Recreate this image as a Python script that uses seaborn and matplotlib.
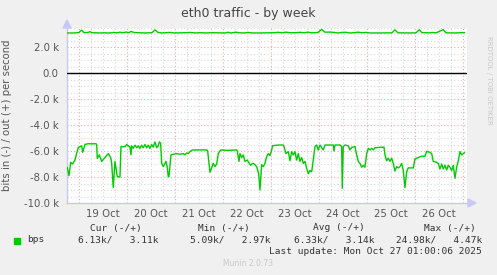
import numpy as np
import pandas as pd
import matplotlib
matplotlib.use("Agg")
import matplotlib.pyplot as plt
import matplotlib.dates as mdates
from matplotlib.ticker import MultipleLocator, FuncFormatter, NullFormatter
import seaborn as sns

# ---------------- data (hours since 19 Oct 2025 00:00) ----------------
in_hours = [-5.7, -4.85, -4.0, -3.0, -1.85, -1.0, -0.2, 1.5, 2.0, 3.15, 4.8, 6.5, 8.65, 9.0,
            9.3, 10.3, 11.5, 13.15, 14.8, 16.0, 16.5, 17.3, 18.15, 19.3, 20.65, 21.15, 23.15,
            24.0, 25.65, 26.15, 26.5, 27.3, 28.15, 29.0, 29.8, 30.65, 31.5, 32.3, 33.15, 34.0,
            34.8, 35.65, 36.5, 37.3, 38.15, 39.0, 39.8, 40.3, 41.0, 41.5, 42.3, 43.65, 44.3,
            44.8, 45.15, 46.15, 47.3, 49.0, 50.65, 52.3, 53.15, 54.0, 54.8, 55.65, 56.8, 64.0,
            64.5, 65.65, 66.5, 67.3, 68.15, 69.0, 69.8, 71.0, 74.0, 79.0, 79.3, 80.15, 80.65,
            81.5, 82.3, 83.15, 84.3, 85.3, 86.0, 87.0, 87.8, 89.0, 90.0, 90.65, 91.5, 92.3,
            93.15, 94.0, 94.8, 95.65, 96.5, 97.0, 99.8, 102.3, 102.65, 103.65, 104.8, 105.65,
            106.5, 107.3, 108.15, 109.0, 109.8, 110.65, 111.5, 112.3, 113.15, 114.0, 114.8,
            115.65, 116.5, 117.3, 118.15, 119.0, 119.8, 120.65, 122.3, 123.15, 127.3, 127.65,
            128.15, 130.65, 131.5, 131.8, 132.3, 133.15, 134.8, 135.65, 136.5, 138.15, 139.0,
            139.8, 140.65, 141.5, 142.3, 143.15, 144.0, 144.8, 145.65, 146.5, 147.3, 148.15,
            152.65, 153.15, 154.0, 154.8, 155.65, 156.5, 157.3, 158.15, 159.0, 159.8, 160.65,
            161.5, 162.3, 163.15, 164.0, 164.8, 165.65, 167.3, 168.15, 169.8, 171.5, 173.15,
            174.0, 175.65, 176.5, 177.3, 178.65, 179.8, 180.65, 181.5, 182.3, 183.15, 184.0,
            184.8, 185.65, 186.5, 187.3, 188.15, 189.0, 189.8, 190.65, 191.5, 192.3, 193.0]
in_values = [-7.26, -7.9, -6.87, -7.0, -6.7, -6.18, -5.74, -5.6, -6.1, -5.49, -5.44, -5.45,
             -5.44, -5.49, -6.57, -6.3, -6.8, -6.5, -6.2, -6.5, -6.95, -8.8, -6.8, -7.97, -8.0,
             -5.67, -5.67, -5.5, -5.7, -6.3, -5.6, -5.8, -5.55, -5.75, -5.6, -5.8, -5.55, -5.75,
             -5.5, -5.75, -5.55, -5.8, -5.5, -5.7, -5.3, -5.75, -5.6, -5.3, -5.4, -6.95, -7.2,
             -6.8, -7.25, -7.97, -7.97, -6.3, -6.25, -6.2, -6.25, -6.2, -6.3, -6.15, -6.2,
             -6.05, -5.92, -5.92, -6.0, -7.64, -7.3, -6.95, -7.2, -7.0, -6.2, -5.92, -5.95,
             -5.92, -6.0, -6.8, -6.2, -6.5, -6.3, -6.8, -6.7, -6.95, -7.1, -6.95, -7.0, -7.2,
             -7.74, -9.0, -7.05, -7.2, -6.95, -6.44, -6.2, -6.35, -5.92, -5.59, -5.54, -5.54,
             -5.66, -6.2, -6.05, -6.75, -6.05, -6.3, -6.05, -6.7, -6.2, -6.8, -6.5, -6.95,
             -6.8, -7.33, -7.74, -7.5, -7.6, -6.7, -5.66, -5.54, -5.92, -5.54, -5.92, -5.54,
             -5.54, -6.0, -5.54, -5.54, -5.66, -8.87, -5.66, -5.54, -5.6, -5.92, -5.72, -5.66,
             -6.3, -6.8, -6.95, -7.25, -7.1, -7.25, -6.2, -5.8, -5.92, -5.8, -5.92, -5.75,
             -5.7, -6.3, -6.75, -6.55, -6.8, -6.55, -6.95, -7.54, -7.2, -7.3, -7.2, -6.95,
             -7.5, -8.82, -7.6, -7.3, -7.3, -7.3, -6.62, -6.5, -6.4, -6.4, -6.03, -6.1, -6.2,
             -6.8, -6.85, -6.95, -7.38, -7.0, -7.38, -7.1, -7.46, -7.1, -7.25, -7.5, -7.1,
             -8.1, -7.25, -6.75, -6.05, -6.3, -6.2, -6.13]

out_hours = [-5.8, -1.85, 0.15, 1.5, 2.65, 4.65, 5.65, 6.65, 10.65, 12.65, 15.65, 17.65, 19.15,
             20.65, 22.15, 23.65, 25.15, 26.15, 27.65, 29.65, 33.15, 36.65, 38.15, 39.65, 41.65,
             43.65, 45.65, 47.65, 50.65, 53.65, 55.65, 58.65, 60.65, 63.65, 66.65, 73.15, 74.65,
             76.15, 78.65, 79.65, 82.65, 84.65, 86.65, 90.65, 97.65, 99.65, 101.65, 103.65,
             105.65, 108.65, 110.65, 112.65, 114.65, 116.65, 119.65, 121.5, 123.15, 125.65,
             127.65, 129.65, 131.65, 133.65, 135.65, 137.65, 139.65, 141.65, 143.65, 145.65,
             150.65, 156.65, 158.15, 159.65, 165.65, 168.65, 170.3, 171.65, 175.65, 176.65,
             178.65, 182.3, 183.65, 188.15, 193.0]
out_values = [3.08, 3.08, 3.12, 3.3, 3.1, 3.12, 3.18, 3.1, 3.08, 3.09, 3.08, 3.12, 3.09, 3.14,
              3.1, 3.15, 3.1, 3.2, 3.12, 3.1, 3.08, 3.1, 3.32, 3.12, 3.08, 3.1, 3.12, 3.08,
              3.09, 3.1, 3.12, 3.08, 3.1, 3.08, 3.1, 3.08, 3.13, 3.08, 3.14, 3.1, 3.08, 3.12,
              3.08, 3.08, 3.1, 3.13, 3.1, 3.14, 3.1, 3.1, 3.13, 3.1, 3.14, 3.09, 3.12, 3.35,
              3.14, 3.15, 3.12, 3.08, 3.12, 3.13, 3.08, 3.1, 3.14, 3.1, 3.12, 3.08, 3.08, 3.09,
              3.32, 3.09, 3.08, 3.09, 3.33, 3.1, 3.09, 3.12, 3.09, 3.33, 3.09, 3.08, 3.11]

day_labels = ["19 Oct", "20 Oct", "21 Oct", "22 Oct", "23 Oct", "24 Oct", "25 Oct", "26 Oct"]
legend_name = "bps"
stat_headers = ["Cur (-/+)", "Min (-/+)", "Avg (-/+)", "Max (-/+)"]
stat_values = ["6.13k/   3.11k", "5.09k/   2.97k", "6.33k/   3.14k", "24.98k/   4.47k"]
title = "eth0 traffic - by week"
ylabel = "bits in (-) / out (+) per second"
last_update = "Last update: Mon Oct 27 01:00:06 2025"

# ---------------- build frames ----------------
base = pd.Timestamp("2025-10-19 00:00")
df_in = pd.DataFrame({"time": base + pd.to_timedelta(in_hours, unit="h"),
                      "value": np.array(in_values) * 1000})
df_out = pd.DataFrame({"time": base + pd.to_timedelta(out_hours, unit="h"),
                       "value": np.array(out_values) * 1000})

sns.set_style("white")
plt.rcParams["font.family"] = ["DejaVu Sans"]

W, H = 497, 275
fig = plt.figure(figsize=(W / 100, H / 100), dpi=100, facecolor="#F0F0F0")
ax = fig.add_axes([67 / W, (H - 203) / H, 400 / W, (203 - 27.5) / H])
ax.set_facecolor("white")

green = "#00CC00"
sns.lineplot(data=df_in, x="time", y="value", ax=ax, color=green, lw=1.0, zorder=5)
sns.lineplot(data=df_out, x="time", y="value", ax=ax, color=green, lw=1.0, zorder=5)
ax.axhline(0, color="black", lw=1.0, zorder=4)

xmin = base - pd.Timedelta(hours=5, minutes=50)
xmax = base + pd.Timedelta(hours=194, minutes=10)
ax.set_xlim(xmin, xmax)
ax.set_ylim(-10000, 3500)

# grids
ax.xaxis.set_major_locator(mdates.DayLocator())
ax.xaxis.set_major_formatter(NullFormatter())
ax.xaxis.set_minor_locator(mdates.HourLocator(byhour=[6, 12, 18]))

def xfmt(v, pos):
    d = mdates.num2date(v)
    if d.hour == 12:
        lbl = d.strftime("%-d %b")
        return lbl if lbl in day_labels else ""
    return ""

ax.xaxis.set_minor_formatter(FuncFormatter(xfmt))
ax.yaxis.set_major_locator(MultipleLocator(2000))
ax.yaxis.set_minor_locator(MultipleLocator(500))

def yfmt(v, pos):
    if abs(v) < 1e-9:
        return "0.0"
    return f"{v/1000:.1f} k"

ax.yaxis.set_major_formatter(FuncFormatter(yfmt))

ax.grid(which="minor", color="#D8D8D8", ls=(0, (1, 2)), lw=0.8)
ax.grid(which="major", color="#F0A8A8", ls=(0, (1, 2)), lw=0.8)
ax.set_axisbelow(True)

ax.tick_params(axis="both", which="both", length=0, colors="#555555", labelsize=7.3, pad=4)
ax.tick_params(axis="y", which="major", pad=6)
for sp in ["top", "right"]:
    ax.spines[sp].set_visible(False)
for sp in ["left", "bottom"]:
    ax.spines[sp].set_color("#C8C8F8")
    ax.spines[sp].set_linewidth(1.0)
ax.set_xlabel("")
ax.set_ylabel(ylabel, fontsize=7.3, color="#555555", labelpad=8)

# axis arrows
fig.patches.append(plt.Polygon([[468 / W, (H - 199) / H], [468 / W, (H - 207) / H], [476 / W, (H - 203) / H]],
                               closed=True, transform=fig.transFigure, color="#C8C8F8"))
fig.patches.append(plt.Polygon([[63 / W, (H - 28) / H], [71 / W, (H - 28) / H], [67 / W, (H - 20) / H]],
                               closed=True, transform=fig.transFigure, color="#C8C8F8"))

fig.text(248 / W, (H - 13) / H, title, ha="center", va="center", fontsize=9, color="#444444")
fig.text(489 / W, (H - 80) / H, "RRDTOOL / TOBI OETIKER", rotation=-90, ha="center", va="center",
         fontsize=5, color="#C8C8C8")

mono = "DejaVu Sans Mono"
fs = 6.8
fig.patches.append(plt.Rectangle((14 / W, (H - 244) / H), 6 / W, 6 / H, transform=fig.transFigure,
                                 color=green))
fig.text(27 / W, (H - 240) / H, legend_name, ha="left", va="center", fontsize=fs, family=mono, color="#333333")
hdr_x = [142, 250, 365, 476]
val_x = [158, 270, 375, 482]
for hx, h in zip(hdr_x, stat_headers):
    fig.text(hx / W, (H - 228) / H, h, ha="right", va="center", fontsize=fs, family=mono, color="#333333")
for vx, v in zip(val_x, stat_values):
    fig.text(vx / W, (H - 240) / H, v, ha="right", va="center", fontsize=fs, family=mono, color="#333333")
fig.text(482 / W, (H - 251) / H, last_update, ha="right", va="center", fontsize=fs, family=mono, color="#333333")
fig.text(248 / W, (H - 264) / H, "Munin 2.0.73", ha="center", va="center", fontsize=5.5, color="#C8C8C8")

fig.savefig("out.png", dpi=100, facecolor=fig.get_facecolor())
